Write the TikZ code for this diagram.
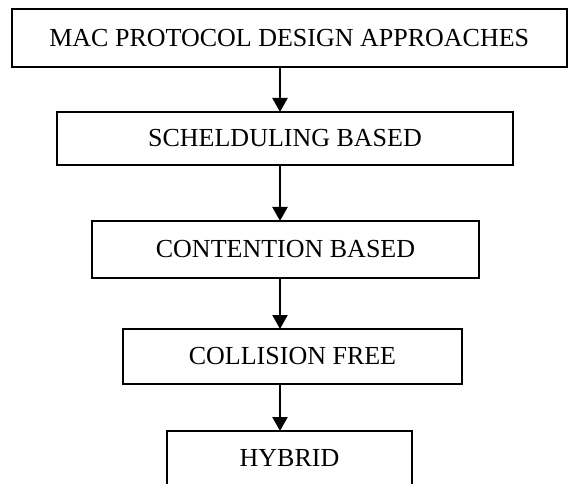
\documentclass[tikz,border=0pt]{standalone}
\usepackage{fontspec}
\setmainfont{Liberation Serif}
\usetikzlibrary{arrows.meta, positioning}

\begin{document}
\begin{tikzpicture}[x=1pt, y=-1pt,
  box/.style = {draw, rectangle, line width=1.6pt, inner sep=0pt, outer sep=0pt,
                font=\fontsize{26}{30}\selectfont},
  flow/.style = {line width=2.2pt, -{Triangle[width=15pt, length=14pt]}}]

\useasboundingbox (0,0) rectangle (568,484);
\clip (0,0) rectangle (568,484);

\node [box, minimum width=555pt, minimum height=58pt] at (289.3,38.0)  (mac)  {MAC PROTOCOL DESIGN APPROACHES};
\node [box, minimum width=456pt, minimum height=53pt] at (285.0,138.5) (sched) {SCHELDULING BASED};
\node [box, minimum width=387pt, minimum height=57pt] at (285.5,249.5) (cont) {CONTENTION BASED};
\node [box, minimum width=339pt, minimum height=55pt] at (292.5,356.5) (coll) {COLLISION FREE};
\node [box, minimum width=245pt, minimum height=55pt] at (289.5,458.5) (hyb)  {HYBRID};

\coordinate (axis) at (280,0);

\path [draw, flow] (mac.south -| axis)   -- (sched.north -| axis);
\path [draw, flow] (sched.south -| axis) -- (cont.north -| axis);
\path [draw, flow] (cont.south -| axis)  -- (coll.north -| axis);
\path [draw, flow] (coll.south -| axis)  -- (hyb.north -| axis);

\end{tikzpicture}
\end{document}
